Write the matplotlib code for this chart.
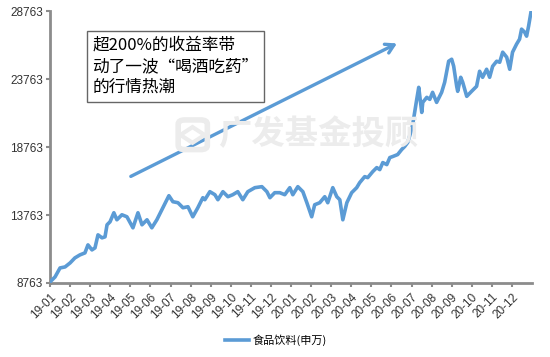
import matplotlib.pyplot as plt
from matplotlib.patches import FancyBboxPatch, RegularPolygon

plt.rcParams['font.family'] = ['Noto Sans CJK SC', 'DejaVu Sans']

# month position (0 = 2019-01) and index level
month_pos = [0.00, 0.25, 0.50, 0.75, 1.00, 1.24, 1.49, 1.74, 1.89, 2.09, 2.24, 2.39,
             2.59, 2.74, 2.84, 2.99, 3.18, 3.33, 3.58, 3.83, 4.13, 4.38, 4.58, 4.83,
             5.07, 5.32, 5.57, 5.92, 6.12, 6.37, 6.62, 6.87, 7.11, 7.36, 7.61, 7.71,
             7.96, 8.21, 8.36, 8.61, 8.86, 9.10, 9.35, 9.60, 9.85, 10.20, 10.55, 10.80,
             10.95, 11.19, 11.44, 11.69, 11.94, 12.09, 12.34, 12.59, 12.79, 13.03, 13.18,
             13.43, 13.68, 13.83, 14.08, 14.28, 14.43, 14.58, 14.78, 15.02, 15.27, 15.42,
             15.67, 15.82, 16.07, 16.27, 16.42, 16.57, 16.77, 16.92, 17.06, 17.31, 17.51,
             17.66, 17.81, 17.96, 18.06, 18.26, 18.36, 18.51, 18.56, 18.76, 18.91, 19.05,
             19.25, 19.50, 19.65, 19.85, 20.00, 20.10, 20.25, 20.30, 20.45, 20.55, 20.75,
             20.99, 21.24, 21.39, 21.54, 21.74, 21.89, 22.04, 22.24, 22.39, 22.54, 22.74,
             22.89, 23.03, 23.23, 23.38, 23.48, 23.63, 23.73, 23.83, 23.95]
index_level = [8837, 9206, 9870, 9944, 10239, 10608, 10829, 10977, 11567, 11198, 11346, 12305,
               12084, 12158, 13043, 13265, 13929, 13412, 13781, 13634, 12822, 13929, 13043, 13412,
               12822, 13412, 14150, 15184, 14741, 14667, 14298, 14372, 13634, 14298, 15036, 14888,
               15479, 15257, 14888, 15479, 15110, 15257, 15479, 14888, 15479, 15774, 15848, 15479,
               15036, 15405, 15405, 15257, 15774, 15257, 15848, 15479, 14667, 13634, 14519,
               14667, 15110, 14667, 15774, 15110, 14888, 13412, 14667, 15405, 15774, 16143,
               16586, 16512, 16955, 17250, 17102, 17619, 17471, 17988, 18062, 18209, 18578,
               18800, 19095, 19833, 20423, 22268, 23154, 21309, 22047, 22416, 22268, 22785,
               22047, 22785, 23523, 25073, 25220, 24704, 23228, 22859, 23892, 23523, 22490,
               22859, 23228, 24335, 23892, 24482, 23892, 24704, 25073, 24999, 25737, 25368,
               24482, 25737, 26327, 26697, 27435, 27213, 26918, 27656, 28700]

month_labels = [f'19-{m:02d}' for m in range(1, 13)] + [f'20-{m:02d}' for m in range(1, 13)]
y_ticks = [8763, 13763, 18763, 23763, 28763]

blue = '#5B9BD5'
grey = '#8c8c8c'

fig = plt.figure(figsize=(5.5, 3.57), dpi=100)
ax = fig.add_axes([0.0909, 0.2073, 0.8764, 0.7617])

# watermark
fig.text(0.396, 0.622, '广发基金投顾', fontsize=24, fontweight='bold', color='#ececec',
         ha='left', va='center', zorder=0)
logo = FancyBboxPatch((0.328, 0.585), 0.045, 0.075, boxstyle='round,pad=0.004,rounding_size=0.012',
                      transform=fig.transFigure, fill=False, ec='#ececec', lw=4, zorder=0)
fig.patches.append(logo)
fig.patches.append(RegularPolygon((0.350, 0.622), 4, radius=0.022, transform=fig.transFigure,
                                  fill=False, ec='#ececec', lw=3, zorder=0))

ax.patch.set_alpha(0)
ax.plot(month_pos, index_level, color=blue, lw=2.6, solid_joinstyle='round', zorder=3)

ax.set_xlim(0, 24)
ax.set_ylim(8763, 28763)
ax.set_yticks(y_ticks)
ax.set_yticklabels([str(v) for v in y_ticks], fontsize=8.5, color='#333333',
                   family='Liberation Sans')
ax.set_xticks(range(24))
ax.set_xticklabels(month_labels, rotation=45, ha='right', rotation_mode='anchor',
                   fontsize=8.5, color='#333333', family='Liberation Sans')

for side in ['top', 'right']:
    ax.spines[side].set_visible(False)
for side in ['left', 'bottom']:
    ax.spines[side].set_color(grey)
    ax.spines[side].set_linewidth(2)
ax.tick_params(axis='both', colors=grey, length=3, width=1.5, labelcolor='#333333')
ax.tick_params(axis='x', pad=3)
ax.tick_params(axis='y', pad=2)

# annotation box and arrow
ax.text(0.088, 0.905, '超200%的收益率带\n动了一波“喝酒吃药”\n的行情热潮', transform=ax.transAxes,
        fontsize=12, va='top', ha='left', linespacing=1.3, zorder=4,
        bbox=dict(boxstyle='square,pad=0.35', fc='white', ec='#666666', lw=1))
ax.annotate('', xy=(17.4, 26475), xytext=(3.9, 16512),
            arrowprops=dict(arrowstyle='->,head_length=0.6,head_width=0.35', color=blue, lw=2.4),
            zorder=4)

ax.legend(['食品饮料(申万)'], loc='center', bbox_to_anchor=(0.469, -0.21), frameon=False,
          fontsize=8, handlelength=2.2, handletextpad=0.3)

fig.savefig('out.png', dpi=100)
